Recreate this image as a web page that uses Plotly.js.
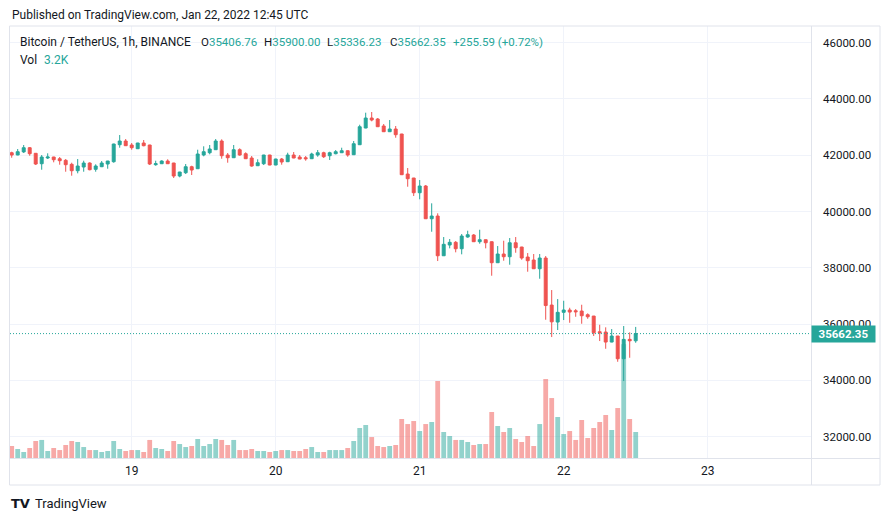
<!DOCTYPE html>
<html><head><meta charset="utf-8">
<script src="https://cdn.plot.ly/plotly-3.0.1.min.js"></script>
<style>html,body{margin:0;padding:0;background:#fff;}#chart{width:891px;height:521px;}</style>
</head><body><div id="chart"></div>
<script>
// Hourly candles BTC/USDT, Binance, starting 2022-01-18 04:00 UTC
const firstHourUTC = [2022, 0, 18, 4];
const openP = [42090,42010,42120,42268,42069,41699,41902,41937,41877,41820,
 41678,41450,41582,41724,41500,41593,41688,41770,42374,42506,
 42364,42232,42435,42364,41664,41699,41795,41724,41262,41379,
 41593,41521,42008,42090,42197,42506,42008,41912,42197,42055,
 41902,41628,41699,42008,41653,41866,41770,42008,41937,41912,
 41877,42008,42090,41983,42055,42090,42161,42019,42374,42968,
 43323,43288,43039,42836,42932,42755,41333,41191,40668,40907,
 39744,39840,38429,38810,38906,38678,39094,39165,38927,38998,
 38927,38181,38490,38394,38891,38739,38383,38277,37967,38348,
 36677,36073,36418,36500,36475,36464,36333,36286,35728,35718,
 35362,35576,34769,35458,35406.76];
const highP = [42126,42222,42364,42293,42075,42008,42069,41945,41937,41866,
 41735,41866,41806,41749,41678,41795,41800,42410,42719,42577,
 42435,42440,42541,42370,41806,41820,41856,41730,41410,41688,
 41628,42197,42318,42364,42577,42566,42079,42364,42246,42104,
 41973,41856,42015,42015,41875,41902,42090,42115,42008,41973,
 42090,42186,42126,42126,42186,42268,42170,42506,43085,43512,
 43536,43323,43110,43252,43039,42760,41546,41195,41120,40942,
 40292,39936,39094,39023,38952,39201,39318,39201,39353,39005,
 38935,38774,38963,39059,39094,38745,38525,38490,38490,38419,
 37210,36890,36830,36581,36535,36688,36382,36290,35977,35885,
 35824,35580,35931,35707,35900.00];
const lowP = [41912,42000,42080,41983,41653,41486,41866,41749,41664,41415,
 41273,41358,41415,41464,41415,41580,41521,41735,42268,42330,
 42197,42225,42318,41653,41628,41690,41690,41191,41216,41333,
 41298,41515,41962,42033,42190,41877,41735,41905,41983,41870,
 41593,41620,41653,41645,41645,41664,41765,41895,41860,41806,
 41870,41948,41902,41831,42033,42085,41948,42008,42370,42960,
 43206,43010,42830,42830,42623,41300,40882,40551,40434,39740,
 39282,38241,38425,38692,38550,38479,39069,38920,38856,38692,
 37719,38175,38252,38110,38536,38287,37861,37960,37612,36155,
 35540,35789,36144,36048,36261,36013,36190,35576,35398,35124,
 35355,34662,33976,34804,35336.23];
const closeP = [42008,42126,42268,42055,41688,41937,41937,41841,41806,41664,
 41450,41617,41724,41486,41617,41724,41795,42399,42506,42339,
 42268,42435,42339,41688,41699,41795,41699,41262,41404,41593,
 41475,42044,42126,42222,42506,41983,41912,42197,42008,41877,
 41617,41735,42008,41653,41866,41760,42008,41902,41866,41877,
 42044,42090,41948,42090,42126,42161,42008,42410,43014,43323,
 43252,43014,42836,42932,42730,41308,41166,40668,40907,39744,
 39840,38429,38835,38906,38678,39130,39176,38927,38998,38891,
 38181,38490,38394,38891,38714,38348,38252,37967,38348,36659,
 36080,36418,36500,36428,36439,36297,36261,35693,35693,35362,
 35576,34769,35458,35406.76,35662.35];
// volume in thousands of BTC
const volumeK = [1.48,1.11,0.74,1.23,2.09,2.22,0.86,1.23,0.98,1.6,
 2.09,1.97,1.35,0.98,0.98,0.74,0.86,2.09,1.11,0.86,
 0.98,0.98,0.74,2.22,1.23,1.11,0.86,2.09,1.72,1.35,
 1.48,2.34,1.48,1.72,2.34,2.22,1.6,2.22,0.98,0.98,
 1.11,0.86,0.86,0.74,0.86,0.98,0.98,0.86,0.86,1.11,
 1.35,0.74,0.74,0.98,0.98,0.98,1.23,2.09,3.69,4.06,
 2.58,1.48,1.35,1.48,1.6,4.8,4.18,4.55,3.32,4.18,
 4.43,9.48,3.2,2.71,2.22,2.22,1.97,1.6,1.72,1.72,
 5.66,3.94,3.2,3.69,2.34,1.97,2.71,1.48,4.18,9.72,
 7.38,5.05,2.95,3.32,2.22,4.68,2.46,3.69,4.43,5.29,
 3.45,6.15,14.0,4.8,3.2];
const dayTicks = ['2022-01-19','2022-01-20','2022-01-21','2022-01-22','2022-01-23'];
const dayLabels = ['19','20','21','22','23'];
const priceTicks = [32000,34000,36000,38000,40000,42000,44000,46000];
const lastPrice = 35662.35;

const UP = '#26a69a', DOWN = '#ef5350';
const t0 = Date.UTC(...firstHourUTC);
const times = openP.map((_, i) => new Date(t0 + i * 3600000).toISOString().slice(0, 16).replace('T', ' '));
const volColors = openP.map((o, i) => closeP[i] >= o ? 'rgba(38,166,154,0.5)' : 'rgba(239,83,80,0.5)');

const W = 891, H = 521, L = 10, R = 80, T = 26, B = 63;
const pw = W - L - R, ph = H - T - B;
const px = x => (x - L) / pw;
const py = y => (H - B - y) / ph;
const FONT = 'Roboto, Arial, sans-serif';
const TXT = '#131722';
const FRAME = '#e0e3eb';

const traces = [
  {type: 'bar', x: times, y: volumeK, yaxis: 'y2', marker: {color: volColors, line: {width: 0}},
   width: 0.8 * 3600000, hoverinfo: 'skip', showlegend: false},
  {type: 'candlestick', x: times, open: openP, high: highP, low: lowP, close: closeP,
   increasing: {line: {color: UP, width: 1}, fillcolor: UP},
   decreasing: {line: {color: DOWN, width: 1}, fillcolor: DOWN},
   whiskerwidth: 0, showlegend: false, hoverinfo: 'skip'}
];

function line(x0, y0, x1, y1, color) {
  return {type: 'line', xref: 'paper', yref: 'paper', x0: px(x0), x1: px(x1), y0: py(y0), y1: py(y1),
          line: {color: color, width: 1}, layer: 'above'};
}
const shapes = [
  {type: 'line', xref: 'paper', yref: 'y', x0: 0, x1: 1, y0: lastPrice, y1: lastPrice,
   line: {color: UP, width: 1, dash: '1px,2px'}, layer: 'above'},
  line(9.5, 26, 880, 26, FRAME),
  line(9.5, 26, 9.5, 485, FRAME),
  line(811.5, 26, 811.5, 485, FRAME),
  line(880, 26, 880, 485, FRAME),
  line(9.5, 458.5, 880, 458.5, FRAME),
  line(9.5, 485, 880, 485, FRAME)
];

function ann(x, y, text, size, color, extra) {
  return Object.assign({xref: 'paper', yref: 'paper', x: px(x), y: py(y), xanchor: 'left', yanchor: 'middle',
    text: text, showarrow: false, font: {family: FONT, size: size, color: color}}, extra || {});
}
const g = s => '<span style="color:' + UP + '">' + s + '</span>';
const annotations = [
  ann(10, 15, 'Published on TradingView.com, Jan 22, 2022 12:45 UTC', 12, TXT),
  ann(18, 42, 'Bitcoin / TetherUS, 1h, BINANCE', 12, TXT),
  ann(199, 42, 'O' + g('35406.76'), 11.5, TXT),
  ann(262, 42, 'H' + g('35900.00'), 11.5, TXT),
  ann(325, 42, 'L' + g('35336.23'), 11.5, TXT),
  ann(388, 42, 'C' + g('35662.35'), 11.5, TXT),
  ann(451, 42, g('+255.59 (+0.72%)'), 11.5, TXT),
  ann(18, 60, 'Vol', 12, TXT),
  ann(42, 60, g('3.2K'), 12, TXT),
  ann(9, 503, '<b>TV</b>', 13, '#131722', {font: {family: 'DejaVu Sans', size: 13, color: '#131722'}}),
  ann(33, 503, 'TradingView', 13, TXT),
  {xref: 'paper', yref: 'y', x: 1, y: lastPrice, xanchor: 'left', yanchor: 'middle', showarrow: false,
   text: '<b>' + lastPrice.toFixed(2) + '</b>', bgcolor: UP, width: 63, height: 16, borderpad: 0,
   font: {family: FONT, size: 11.5, color: '#ffffff'}}
];

const layout = {
  width: W, height: H, margin: {l: L, r: R, t: T, b: B},
  paper_bgcolor: '#ffffff', plot_bgcolor: '#ffffff',
  font: {family: FONT, size: 12, color: TXT},
  showlegend: false, bargap: 0.2,
  xaxis: {type: 'date', range: ['2022-01-18 03:43', '2022-01-23 17:13'],
    tickvals: dayTicks, ticktext: dayLabels, showgrid: true, gridcolor: '#f0f3fa', gridwidth: 1,
    zeroline: false, showline: false, ticks: '', ticklabelstandoff: 4,
    rangeslider: {visible: false}, fixedrange: true, tickfont: {family: FONT, size: 12, color: TXT}},
  yaxis: {side: 'right', range: [31242, 46593], tickvals: priceTicks,
    ticktext: priceTicks.map(v => v.toFixed(2)), showgrid: true, gridcolor: '#f0f3fa', gridwidth: 1,
    zeroline: false, showline: false, ticks: '', ticklabelstandoff: 11, fixedrange: true,
    tickfont: {family: FONT, size: 11.5, color: TXT}},
  yaxis2: {overlaying: 'y', range: [0, 53.17], visible: false, fixedrange: true},
  shapes: shapes, annotations: annotations
};

Plotly.newPlot('chart', traces, layout, {staticPlot: true, displayModeBar: false});
</script></body></html>
